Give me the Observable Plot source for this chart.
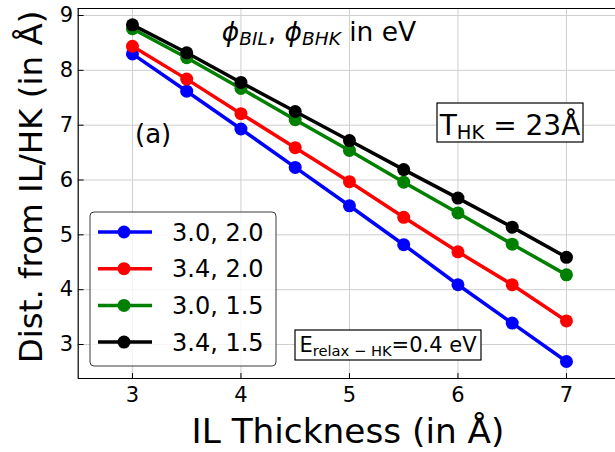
<!DOCTYPE html>
<html><head><meta charset="utf-8">
<script src="https://cdn.jsdelivr.net/npm/d3@7"></script>
<script src="https://cdn.jsdelivr.net/npm/@observablehq/plot@0.6"></script>
<style>body{margin:0;background:#fff} #chart{position:relative;width:615px;height:452px}</style>
</head><body><div id="chart"></div>
<script>
const thickness = [3, 3.5, 4, 4.5, 5, 5.5, 6, 6.5, 7];
const seriesLabels = ["3.0, 2.0", "3.4, 2.0", "3.0, 1.5", "3.4, 1.5"];
const seriesColors = ["#0000ff", "#ff0000", "#008000", "#000000"];
const dist_30_20 = [8.30, 7.62, 6.93, 6.23, 5.53, 4.82, 4.09, 3.39, 2.69];
const dist_34_20 = [8.44, 7.84, 7.21, 6.59, 5.97, 5.32, 4.69, 4.09, 3.43];
const dist_30_15 = [8.76, 8.23, 7.67, 7.10, 6.54, 5.96, 5.40, 4.83, 4.27];
const dist_34_15 = [8.83, 8.32, 7.78, 7.25, 6.72, 6.19, 5.67, 5.14, 4.59];
const xTicks = [3, 4, 5, 6, 7];
const yTicks = [3, 4, 5, 6, 7, 8, 9];
const xDomain = [2.5, 7.452];
const yDomain = [2.38, 9.128];
const xLabel = "IL Thickness (in Å)";
const yLabel = "Dist. from IL/HK (in Å)";

const seriesValues = [dist_30_20, dist_34_20, dist_30_15, dist_34_15];
const rows = seriesLabels.flatMap((s, i) => thickness.map((x, j) => ({s, x, y: seriesValues[i][j]})));

const tickShape = {draw(ctx, l) { ctx.moveTo(0, 0); ctx.lineTo(0, -l); }};

const plot = Plot.plot({
  width: 615, height: 452,
  marginLeft: 77.7, marginRight: 0, marginTop: 8, marginBottom: 74,
  x: {domain: xDomain},
  y: {domain: yDomain},
  color: {domain: seriesLabels, range: seriesColors},
  style: {fontFamily: "DejaVu Sans", background: "white", color: "black", overflow: "visible"},
  marks: [
    Plot.gridX(xTicks, {stroke: "#cfcfcf", strokeOpacity: 1, strokeWidth: 1}),
    Plot.gridY(yTicks, {stroke: "#cfcfcf", strokeOpacity: 1, strokeWidth: 1}),
    ...seriesLabels.flatMap(s => [
      Plot.line(rows.filter(d => d.s === s), {x: "x", y: "y", stroke: "s", strokeWidth: 3.5}),
      Plot.dot(rows.filter(d => d.s === s), {x: "x", y: "y", fill: "s", r: 6.5, stroke: "none"})
    ]),
    Plot.ruleX([xDomain[0]], {stroke: "black", strokeWidth: 1.2}),
    Plot.ruleY([yDomain[0], yDomain[1]], {stroke: "black", strokeWidth: 1.2}),
    Plot.vector(xTicks, {x: d => d, frameAnchor: "bottom", length: 5, anchor: "start", shape: tickShape, stroke: "black", strokeWidth: 1}),
    Plot.vector(yTicks, {y: d => d, frameAnchor: "left", rotate: 90, length: 5, anchor: "start", shape: tickShape, stroke: "black", strokeWidth: 1}),
    Plot.axisX(xTicks, {tickSize: 0, tickPadding: 9, fontSize: 21, label: null, tickFormat: d => String(d)}),
    Plot.axisY(yTicks, {tickSize: 0, tickPadding: 5, fontSize: 21, label: null, tickFormat: d => String(d)})
  ]
});

document.getElementById("chart").appendChild(plot);

const svg = d3.select(plot);
const g = svg.append("g").attr("font-family", "DejaVu Sans").attr("fill", "black").attr("text-anchor", "start");

// axis labels
g.append("text").attr("x", 348).attr("y", 443).attr("text-anchor", "middle").attr("font-size", 34.3).text(xLabel);
g.append("text").attr("transform", "translate(42,187) rotate(-90)").attr("text-anchor", "middle").attr("font-size", 32.5).text(yLabel);

// title
const t = g.append("text").attr("x", 319).attr("y", 41).attr("text-anchor", "middle").attr("font-size", 26.5);
t.append("tspan").attr("font-style", "italic").text("ϕ");
t.append("tspan").attr("font-style", "italic").attr("font-size", 18.5).attr("dy", 4).text("BIL");
t.append("tspan").attr("dy", -4).text(", ");
t.append("tspan").attr("font-style", "italic").text("ϕ");
t.append("tspan").attr("font-style", "italic").attr("font-size", 18.5).attr("dy", 4).text("BHK");
t.append("tspan").attr("dy", -4).text(" in eV");

// (a)
g.append("text").attr("x", 135).attr("y", 143).attr("font-size", 26).text("(a)");

// T_HK box
g.append("rect").attr("x", 437).attr("y", 103).attr("width", 146).attr("height", 39).attr("fill", "white").attr("stroke", "black").attr("stroke-width", 1.2);
const th = g.append("text").attr("x", 510).attr("y", 135).attr("text-anchor", "middle").attr("font-size", 28);
th.append("tspan").text("T");
th.append("tspan").attr("font-size", 19.5).attr("dy", 4).text("HK");
th.append("tspan").attr("dy", -4).text(" = 23Å");

// E_relax box
g.append("rect").attr("x", 295).attr("y", 330).attr("width", 186).attr("height", 30).attr("fill", "white").attr("stroke", "black").attr("stroke-width", 1.2);
const er = g.append("text").attr("x", 388).attr("y", 352).attr("text-anchor", "middle").attr("font-size", 21);
er.append("tspan").text("E");
er.append("tspan").attr("font-size", 14.7).attr("dy", 4).text("relax − HK");
er.append("tspan").attr("dy", -4).text("=0.4 eV");

// legend
const lg = g.append("g");
lg.append("rect").attr("x", 90).attr("y", 212).attr("width", 186).attr("height", 154).attr("rx", 4)
  .attr("fill", "white").attr("fill-opacity", 0.8).attr("stroke", "#3a3a3a").attr("stroke-width", 1);
seriesLabels.forEach((s, i) => {
  const yy = 232 + i * 36.7;
  lg.append("line").attr("x1", 98).attr("x2", 152).attr("y1", yy).attr("y2", yy).attr("stroke", seriesColors[i]).attr("stroke-width", 3.5);
  lg.append("circle").attr("cx", 124).attr("cy", yy).attr("r", 6.5).attr("fill", seriesColors[i]);
  lg.append("text").attr("x", 172).attr("y", yy).attr("dy", "0.36em").attr("text-anchor", "start").attr("font-size", 24).text(s);
});
</script>
</body></html>
